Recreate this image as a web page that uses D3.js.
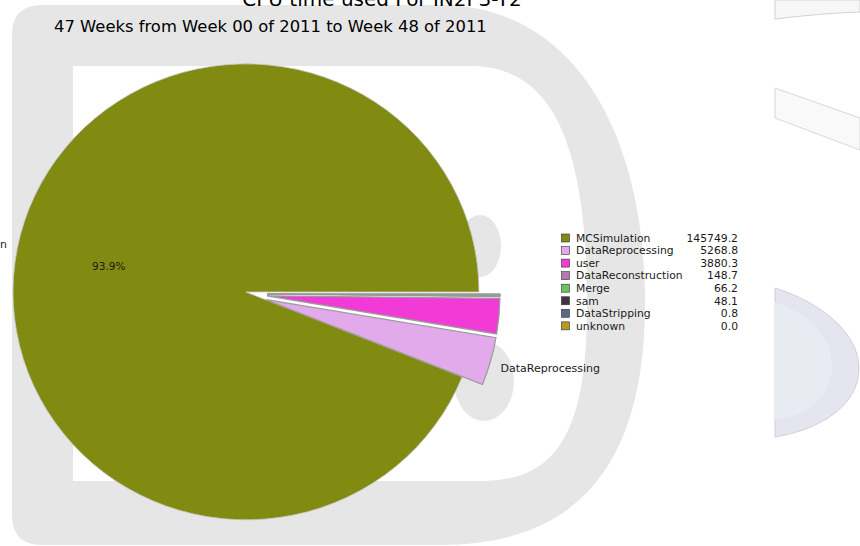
<!DOCTYPE html>
<html><head><meta charset="utf-8">
<script src="https://cdn.jsdelivr.net/npm/d3@7"></script>
<style>html,body{margin:0;padding:0;background:#fff;}svg{display:block;font-family:"DejaVu Sans",sans-serif;}</style>
</head><body>
<svg id="chart" width="860" height="546"></svg>
<script>
const categories = ["MCSimulation","DataReprocessing","user","DataReconstruction","Merge","sam","DataStripping","unknown"];
const values = [145749.2, 5268.8, 3880.3, 148.7, 66.2, 48.1, 0.8, 0.0];
const colors = ["#818b12","#e2a9eb","#f23bd6","#b87aae","#6cc35a","#433144","#5a6a8a","#b49a1e"];
const explodeFlags = [0, 1, 1, 1, 1, 1, 1, 1];
const labelled = ["MCSimulation","DataReprocessing"];
const title = "CPU time used For IN2P3-T2";
const subtitle = "47 Weeks from Week 00 of 2011 to Week 48 of 2011";

const svg = d3.select("#chart");

// ---- watermark background ----
const wm = svg.append("g");
wm.append("path").attr("fill","#e6e6e6")
  .attr("d","M42,5 L440,5 C560,5 640,110 645,290 C648,450 590,545 440,545 L42,545 Q12,545 12,515 L12,35 Q12,5 42,5 Z");
wm.append("path").attr("fill","#ffffff")
  .attr("d","M73,66 L470,66 C540,66 585,120 587,290 C589,430 560,481 480,481 L73,481 Z");
wm.append("ellipse").attr("cx",480).attr("cy",246).attr("rx",21).attr("ry",31).attr("fill","#e6e6e6");
wm.append("ellipse").attr("cx",484).attr("cy",381).attr("rx",30).attr("ry",40).attr("fill","#e6e6e6");
const right = wm.append("g");
right.append("path").attr("fill","#f7f7f7").attr("stroke","#c8c8c8").attr("stroke-width",0.8)
  .attr("d","M775,0 L860,0 L860,12 C830,13 800,16 775,19 Z");
right.append("path").attr("fill","#f9f9f9").attr("stroke","#cfcfcf").attr("stroke-width",0.8)
  .attr("d","M775,88 L860,118 L860,150 L775,118 Z");
right.append("path").attr("fill","#e4e5ef").attr("stroke","#c8c8d4").attr("stroke-width",0.8)
  .attr("d","M775,288 C820,302 858,332 859,367 C860,405 820,430 775,437 Z");
right.append("path").attr("fill","#e9ebf3")
  .attr("d","M775,302 C810,314 832,337 832,367 C832,395 810,415 775,420 Z");

// ---- pie ----
const cx = 246, cy = 292, rx = 233, ry = 228;
const total = d3.sum(values);
const data = categories.map((c,i)=>({name:c, value:values[i], color:colors[i], explode:explodeFlags[i]}));
// matplotlib style: start at 3 o'clock, counterclockwise
const pie = d3.pie().value(d=>d.value).sort(null)
  .startAngle(Math.PI/2).endAngle(Math.PI/2 - 2*Math.PI);
const arcs = pie(data);
const arcGen = d3.arc().innerRadius(0).outerRadius(1);
const pieG = svg.append("g");
const explodeDist = 21;
function mid(a){ return (a.startAngle + a.endAngle)/2; }
arcs.forEach(a=>{
  const m = mid(a);
  a._dx = a.data.explode ? explodeDist*Math.sin(m) : 0;
  a._dy = a.data.explode ? -explodeDist*Math.cos(m) + 2 : 0;
  if (a.data.value <= 0) return;
  const g = pieG.append("g").attr("transform",`translate(${cx+a._dx},${cy+a._dy})`);
  g.append("path")
    .attr("d", arcGen(a))
    .attr("transform",`scale(${rx},${ry})`)
    .attr("fill", a.data.color)
    .attr("stroke", a.data.explode ? "#9a9a9a" : "#c8c8c8")
    .attr("stroke-width", a.data.explode ? 1.2/ry : 0.8/ry);
});
// labels
arcs.forEach(a=>{
  if (!labelled.includes(a.data.name)) return;
  const m = mid(a);
  const ux = Math.sin(m), uy = -Math.cos(m);
  const lx = cx + a._dx + 1.045*rx*ux;
  const ly = cy + a._dy + 1.1*ry*uy;
  svg.append("text").attr("x", lx).attr("y", ly).attr("dy","0.35em")
    .attr("text-anchor", ux < 0 ? "end" : "start")
    .attr("font-size", 11).attr("fill","#1a1a1a").text(a.data.name);
  if (a.data.value/total > 0.05) {
    svg.append("text").attr("x", cx + a._dx + 0.6*rx*ux).attr("y", cy + a._dy + 0.6*ry*uy)
      .attr("dy","0.35em").attr("text-anchor","middle").attr("font-size", 10.5).attr("fill","#1a1a1a")
      .text(d3.format(".1f")(a.data.value/total*100) + "%");
  }
});

// ---- titles ----
svg.append("text").attr("x", 382).attr("y", 6).attr("text-anchor","middle")
  .attr("font-size", 20).attr("fill","#000").text(title);
svg.append("text").attr("x", 54).attr("y", 32)
  .attr("font-size", 16.4).attr("fill","#000").text(subtitle);

// ---- legend ----
const leg = svg.append("g");
const ly0 = 238, lstep = 12.55;
const yL = d3.scaleLinear().domain([0,1]).range([ly0, ly0+lstep]);
data.forEach((d,i)=>{
  const y = yL(i);
  leg.append("rect").attr("x",561.5).attr("y",y-4).attr("width",8).attr("height",8)
    .attr("fill",d.color).attr("stroke","#333").attr("stroke-width",0.6);
  leg.append("text").attr("x",576).attr("y",y).attr("dy","0.35em")
    .attr("font-size",10.8).attr("fill","#1a1a1a").text(d.name);
  leg.append("text").attr("x",738).attr("y",y).attr("dy","0.35em").attr("text-anchor","end")
    .attr("font-size",10.8).attr("fill","#1a1a1a").text(d3.format(".1f")(d.value));
});
</script>
</body></html>
